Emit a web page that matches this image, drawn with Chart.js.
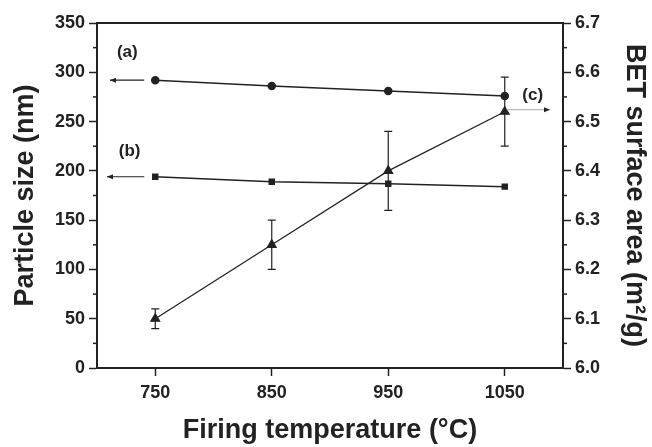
<!DOCTYPE html>
<html>
<head>
<meta charset="utf-8">
<script src="https://cdn.jsdelivr.net/npm/chart.js@4.4.0/dist/chart.umd.min.js"></script>
<style>
  html, body { margin: 0; padding: 0; background: #fff; }
  #wrap { width: 652px; height: 447px; }
</style>
</head>
<body>
<div id="wrap"><canvas id="myChart"></canvas></div>
<script>
// firing temperature (°C)
const temperatures = [750, 850, 950, 1050];
// (a) particle size, circles (nm)
const sizeA = [292, 286, 281, 276];
// (b) particle size, squares (nm)
const sizeB = [194, 189, 187, 184];
// (c) BET surface area, triangles (m2/g)
const betC = [6.10, 6.25, 6.40, 6.52];
const betErr = [0.02, 0.05, 0.08, 0.07];

const xTicks = [750, 850, 950, 1050];
const leftTicks = [0, 50, 100, 150, 200, 250, 300, 350];
const rightTicks = [6.0, 6.1, 6.2, 6.3, 6.4, 6.5, 6.6, 6.7];

const ink = '#222';
const toPoints = (ys) => temperatures.map((t, i) => ({x: t, y: ys[i]}));

const extras = {
    id: 'extras',
    afterDraw(chart) {
        const ctx = chart.ctx;
        const x = chart.scales.x, y = chart.scales.y, y2 = chart.scales.y2;
        const area = chart.chartArea;
        ctx.save();
        ctx.strokeStyle = ink;
        ctx.fillStyle = ink;

        // top frame line
        ctx.lineWidth = 2;
        ctx.beginPath();
        ctx.moveTo(area.left - 1, area.top);
        ctx.lineTo(area.right + 1, area.top);
        ctx.stroke();

        // minor ticks
        ctx.lineWidth = 1.5;
        for (let v = 25; v < 350; v += 50) {
            const py = y.getPixelForValue(v);
            ctx.beginPath(); ctx.moveTo(area.left - 4, py); ctx.lineTo(area.left, py); ctx.stroke();
        }
        for (let k = 0; k < 7; k++) {
            const py = y2.getPixelForValue(6.05 + k * 0.1);
            ctx.beginPath(); ctx.moveTo(area.right, py); ctx.lineTo(area.right + 4, py); ctx.stroke();
        }

        // error bars on (c)
        ctx.lineWidth = 1.2;
        temperatures.forEach((t, i) => {
            const px = x.getPixelForValue(t);
            const top = y2.getPixelForValue(betC[i] + betErr[i]);
            const bot = y2.getPixelForValue(betC[i] - betErr[i]);
            ctx.beginPath();
            ctx.moveTo(px, top); ctx.lineTo(px, bot);
            ctx.moveTo(px - 4, top); ctx.lineTo(px + 4, top);
            ctx.moveTo(px - 4, bot); ctx.lineTo(px + 4, bot);
            ctx.stroke();
        });

        // arrows pointing at the axis each series belongs to
        const arrow = (x1, x2, py, color) => {
            ctx.strokeStyle = color;
            ctx.lineWidth = 1.2;
            ctx.beginPath(); ctx.moveTo(x1, py); ctx.lineTo(x2, py); ctx.stroke();
            const d = x2 > x1 ? 1 : -1;
            ctx.fillStyle = ink;
            ctx.beginPath();
            ctx.moveTo(x2, py);
            ctx.lineTo(x2 - d * 6, py - 2.5);
            ctx.lineTo(x2 - d * 6, py + 2.5);
            ctx.closePath();
            ctx.fill();
        };
        const x0 = x.getPixelForValue(temperatures[0]);
        arrow(x0 - 11, area.left + 13, y.getPixelForValue(sizeA[0]), ink);
        arrow(x0 - 11, area.left + 10, y.getPixelForValue(sizeB[0]), ink);
        const xl = x.getPixelForValue(temperatures[3]);
        arrow(xl + 2, area.right - 13, y2.getPixelForValue(betC[3]) - 2, '#bbb');

        // series labels
        ctx.fillStyle = ink;
        ctx.font = 'bold 17px "Liberation Sans", Arial, sans-serif';
        ctx.textAlign = 'center';
        ctx.textBaseline = 'middle';
        ctx.fillText('(a)', x.getPixelForValue(726), y.getPixelForValue(320));
        ctx.fillText('(b)', x.getPixelForValue(728), y.getPixelForValue(220));
        ctx.fillText('(c)', x.getPixelForValue(1074), y2.getPixelForValue(6.553));
        ctx.restore();
    }
};

const tickFont = {family: '"Liberation Sans", Arial, sans-serif', size: 18, weight: 'bold'};
const titleFont = {family: '"Liberation Sans", Arial, sans-serif', size: 27, weight: 'bold'};
const axisGrid = {drawOnChartArea: false, tickLength: 8, tickColor: ink, tickWidth: 1.5};
const axisBorder = {display: true, color: ink, width: 2};

new Chart(document.getElementById('myChart').getContext('2d'), {
    type: 'line',
    data: {
        datasets: [
            {
                label: '(a)',
                data: toPoints(sizeA),
                yAxisID: 'y',
                borderColor: ink, backgroundColor: ink,
                borderWidth: 1.5, pointStyle: 'circle', pointRadius: 3.5
            },
            {
                label: '(b)',
                data: toPoints(sizeB),
                yAxisID: 'y',
                borderColor: ink, backgroundColor: ink,
                borderWidth: 1.5, pointStyle: 'rect', pointRadius: 3.5
            },
            {
                label: '(c)',
                data: toPoints(betC),
                yAxisID: 'y2',
                borderColor: ink, backgroundColor: ink,
                borderWidth: 1.3, pointStyle: 'triangle', pointRadius: 5
            }
        ]
    },
    options: {
        responsive: true,
        maintainAspectRatio: false,
        animation: false,
        layout: {padding: {top: 23, left: 0, right: 0, bottom: 0}},
        plugins: {legend: {display: false}, tooltip: {enabled: false}},
        scales: {
            x: {
                type: 'linear', min: 700, max: 1100,
                afterBuildTicks: (s) => { s.ticks = xTicks.map(v => ({value: v})); },
                afterFit: (s) => { s.height = 79; },
                grid: axisGrid, border: axisBorder,
                ticks: {font: tickFont, color: ink, padding: 6, maxRotation: 0, callback: (v) => String(v)},
                title: {display: true, text: 'Firing temperature (°C)', font: titleFont, color: ink, padding: {top: 1, bottom: 0}}
            },
            y: {
                position: 'left', min: 0, max: 350,
                afterBuildTicks: (s) => { s.ticks = leftTicks.map(v => ({value: v})); },
                afterFit: (s) => { s.width = 97; },
                grid: axisGrid, border: axisBorder,
                ticks: {font: tickFont, color: ink, padding: 4, callback: (v) => String(v)},
                title: {display: true, text: 'Particle size (nm)', font: titleFont, color: ink, padding: {top: 9, bottom: 4}}
            },
            y2: {
                position: 'right', min: 6.0, max: 6.7,
                afterBuildTicks: (s) => { s.ticks = rightTicks.map(v => ({value: v})); },
                afterFit: (s) => { s.width = 89; },
                grid: axisGrid, border: axisBorder,
                ticks: {font: tickFont, color: ink, padding: 4, callback: (v) => v.toFixed(1)},
                title: {display: true, text: 'BET surface area (m²/g)', font: titleFont, color: ink, padding: {top: 1, bottom: 4}}
            }
        }
    },
    plugins: [extras]
});
</script>
</body>
</html>
